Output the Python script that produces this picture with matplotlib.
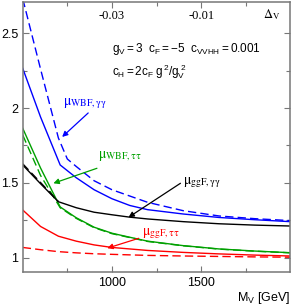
import numpy as np
import matplotlib
matplotlib.use("Agg")
import matplotlib.pyplot as plt
from matplotlib.ticker import FixedLocator

plt.rcParams["font.family"] = "Liberation Sans"
plt.rcParams["mathtext.fontset"] = "custom"
plt.rcParams["mathtext.rm"] = "Liberation Sans"
plt.rcParams["mathtext.it"] = "Liberation Sans"
plt.rcParams["mathtext.bf"] = "Liberation Sans:bold"

# ---- data ----
m_wbf_aa = [500, 600, 710, 800, 900, 1000, 1100, 1200, 1400, 1600, 1800, 2000]
mu_wbf_aa = [2.265, 1.94, 1.62, 1.535, 1.455, 1.395, 1.35, 1.322, 1.293, 1.27, 1.255, 1.242]

m_wbf_aa_d = [500, 600, 700, 750, 800, 900, 1000, 1100, 1200, 1400, 1600, 1800, 2000]
mu_wbf_aa_d = [2.73, 2.26, 1.80, 1.66, 1.61, 1.515, 1.455, 1.413, 1.371, 1.315, 1.28, 1.262, 1.249]

m_wbf_tt = [500, 600, 710, 800, 900, 1000, 1100, 1200, 1400, 1600, 1800, 2000]
mu_wbf_tt = [1.865, 1.60, 1.34, 1.268, 1.205, 1.165, 1.138, 1.112, 1.082, 1.06, 1.046, 1.035]
mu_wbf_tt_d = [1.82, 1.55, 1.335, 1.264, 1.202, 1.162, 1.136, 1.110, 1.081, 1.059, 1.045, 1.034]

m_ggf_aa = [500, 600, 700, 800, 900, 1000, 1100, 1200, 1400, 1600, 1800, 2000]
mu_ggf_aa = [1.62, 1.495, 1.375, 1.335, 1.305, 1.288, 1.272, 1.26, 1.242, 1.228, 1.219, 1.213]
m_ggf_aa_d = [500, 600, 700]
mu_ggf_aa_d = [1.628, 1.503, 1.376]

m_ggf_tt = [500, 600, 700, 800, 900, 1000, 1200, 1400, 1600, 1800, 2000]
mu_ggf_tt = [1.32, 1.21, 1.145, 1.112, 1.087, 1.07, 1.05, 1.037, 1.027, 1.019, 1.013]
mu_ggf_tt_d = [1.07, 1.055, 1.042, 1.034, 1.028, 1.024, 1.017, 1.013, 1.010, 1.007, 1.005]

blue = "#0000ff"
green = "#00a000"
red = "#ff0000"
dash = (0, (6, 3))

fig = plt.figure(figsize=(2.93, 3.05), dpi=100)
ax = fig.add_axes([0.0775, 0.1066, 0.9135, 0.8868])

ax.plot(m_wbf_aa, mu_wbf_aa, color=blue, lw=1.0)
ax.plot(m_wbf_aa_d, mu_wbf_aa_d, color=blue, lw=1.0, ls=dash)
ax.plot(m_wbf_tt, mu_wbf_tt, color=green, lw=1.0)
ax.plot(m_wbf_tt, mu_wbf_tt_d, color=green, lw=1.0, ls=dash)
ax.plot(m_ggf_aa, mu_ggf_aa, color="black", lw=1.0)
ax.plot(m_ggf_aa_d, mu_ggf_aa_d, color="black", lw=1.0, ls=dash)
ax.plot(m_ggf_tt, mu_ggf_tt, color=red, lw=1.0)
ax.plot(m_ggf_tt, mu_ggf_tt_d, color=red, lw=1.0, ls=dash)

ax.set_xlim(500, 2000)
ax.set_ylim(0.903, 2.707)

ax.xaxis.set_major_locator(FixedLocator([1000, 1500]))
ax.xaxis.set_minor_locator(FixedLocator([750, 1250, 1750]))
ax.yaxis.set_major_locator(FixedLocator([1, 1.5, 2, 2.5]))
ax.yaxis.set_minor_locator(FixedLocator([1.25, 1.75, 2.25]))
ax.set_yticklabels(["1", "1.5", "2", "2.5"])
ax.tick_params(which="both", direction="in", top=True, right=True,
               color="#777777", labelsize=9, pad=3)
ax.tick_params(which="major", length=4.5, width=0.8)
ax.tick_params(which="minor", length=3, width=0.8)
for s in ax.spines.values():
    s.set_color("#777777")
    s.set_linewidth(1.1)

ax.set_xlabel("M$_\\mathregular{V}$ [GeV]", fontsize=9, loc="right", labelpad=1)

# top Delta_V scale drawn inside the frame
top = ax.get_xaxis_transform()
ax.text(1000, 0.948, "-0.03", transform=top, ha="center", va="center",
        fontsize=9, family="Liberation Serif")
ax.text(1500, 0.948, "-0.01", transform=top, ha="center", va="center",
        fontsize=9, family="Liberation Serif")
ax.text(1845, 0.952, r"$\Delta_{\rm V}$", transform=top, ha="left", va="center",
        fontsize=9, math_fontfamily="stix")

ax.text(0.333, 0.826, r"$g_V = 3\ \ c_F = \mathregular{-}5\ \ c_{VVHH} = 0.001$",
        transform=ax.transAxes, ha="left", va="center", fontsize=8.5)
ax.text(0.333, 0.741, r"$c_H = 2c_F\ g^2/g_V^{\ 2}$",
        transform=ax.transAxes, ha="left", va="center", fontsize=8.5)

# curve labels with arrows
def label(txt, pos, tail, head, col):
    ax.text(pos[0], pos[1], txt, color=col, fontsize=10, ha="left", va="center",
            math_fontfamily="stix")
    ax.annotate("", xy=head, xytext=tail,
                arrowprops=dict(arrowstyle="-|>", color=col, lw=0.9,
                                mutation_scale=8, shrinkA=0, shrinkB=0))

label(r"$\mathrm{\mu}_{\rm WBF,\gamma\gamma}$", (726, 2.03), (867, 1.967), (721, 1.807), blue)
label(r"$\mathrm{\mu}_{\rm WBF,\tau\tau}$", (924, 1.68), (916, 1.598), (672, 1.498), green)
label(r"$\mathrm{\mu}_{\rm ggF,\gamma\gamma}$", (1400, 1.505), (1384, 1.498), (1093, 1.271), "black")
label(r"$\mathrm{\mu}_{\rm ggF,\tau\tau}$", (1170, 1.165), (1150, 1.131), (974, 1.065), red)

fig.savefig("out.png", dpi=100)
